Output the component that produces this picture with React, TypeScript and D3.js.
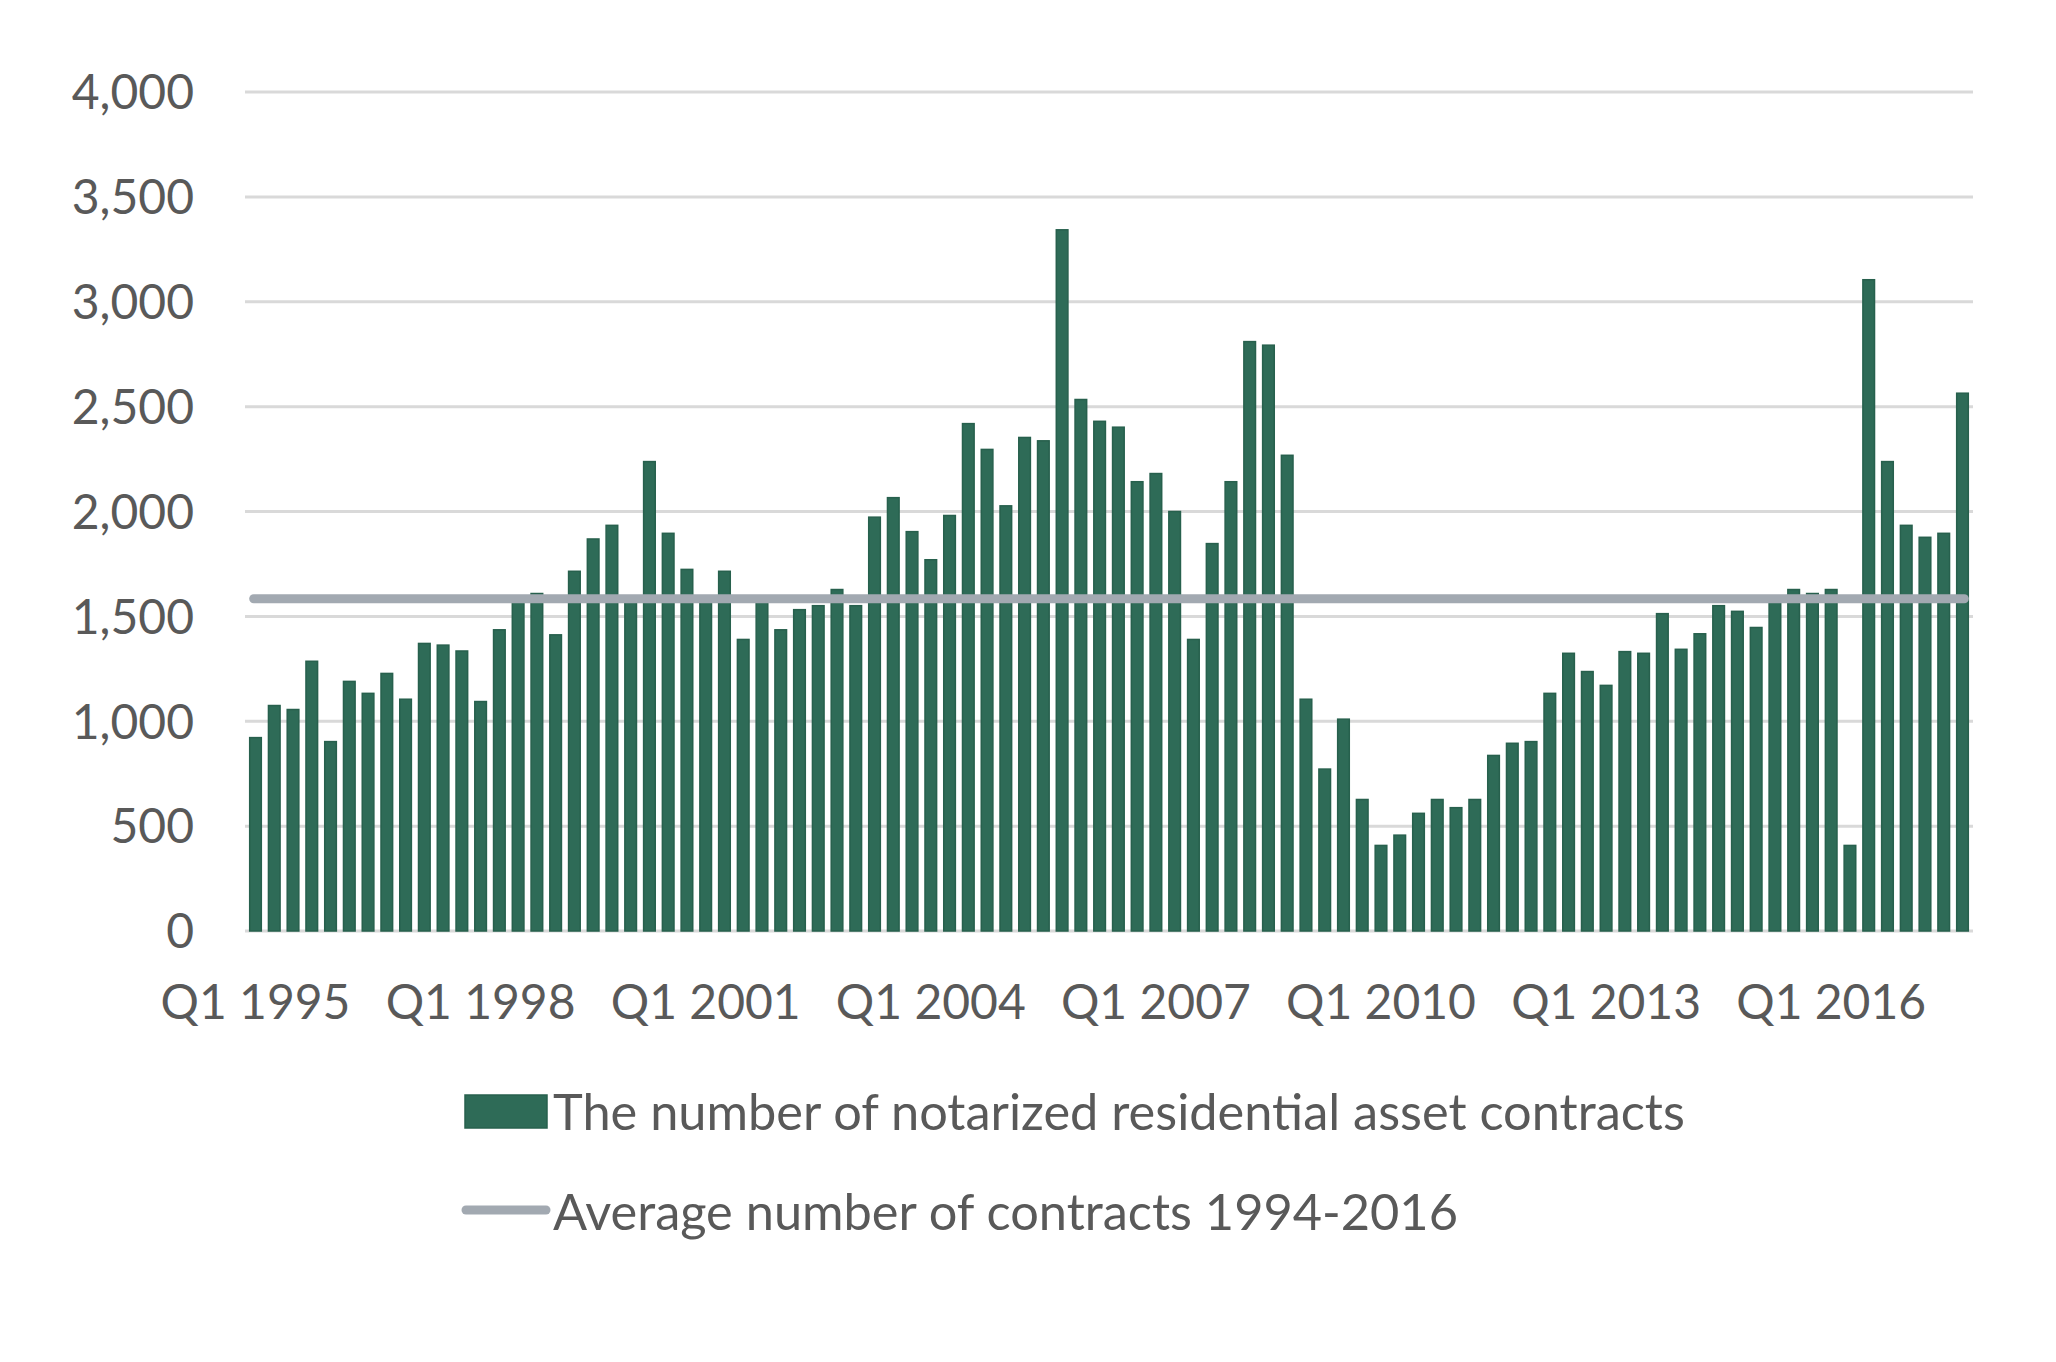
import { useEffect, useRef } from "react";
import * as d3 from "d3";

// quarterly counts, Q1 1995 .. Q4 2017
const contracts = [
  922, 1075, 1056, 1286, 903, 1190, 1133, 1228, 1105, 1371, 1363, 1335,
  1094, 1436, 1575, 1609, 1412, 1715, 1869, 1934, 1575, 2238, 1896, 1724,
  1575, 1715, 1390, 1575, 1436, 1532, 1551, 1628, 1551, 1973, 2066, 1904,
  1770, 1981, 2419, 2296, 2027, 2353, 2337, 3343, 2534, 2430, 2402, 2142,
  2181, 2000, 1390, 1847, 2142, 2810, 2793, 2268, 1105, 772, 1010, 627,
  408, 457, 561, 627, 588, 627, 837, 895, 903, 1133, 1324, 1237,
  1171, 1332, 1324, 1513, 1343, 1417, 1551, 1524, 1447, 1575, 1628, 1609,
  1628, 408, 3105, 2238, 1934, 1877, 1896, 2564,
];
const average = 1584;
const years = d3.range(1995, 2018);
const quarters = years.flatMap((y) => [1, 2, 3, 4].map((q) => `Q${q} ${y}`));
const xTickLabels = ["Q1 1995", "Q1 1998", "Q1 2001", "Q1 2004", "Q1 2007", "Q1 2010", "Q1 2013", "Q1 2016"];
const yTicks = [0, 500, 1000, 1500, 2000, 2500, 3000, 3500, 4000];
const seriesNames = ["The number of notarized residential asset contracts", "Average number of contracts 1994-2016"];

const W = 2056;
const H = 1362;
const FONT = "Lato, 'Open Sans', sans-serif";
const TEXT = "#595959";
const BAR = "#2e6b57";
const AVG = "#a2a9b1";

const App = () => {
  const ref = useRef<SVGSVGElement>(null);

  useEffect(() => {
    document.body.style.margin = "0";
    const svg = d3.select(ref.current);
    svg.selectAll("*").remove();

    const left = 245, right = 1973;
    const x = d3.scaleBand().domain(quarters).range([left, right]).paddingInner(0.38).paddingOuter(0.25);
    const y = d3.scaleLinear().domain([0, 4000]).range([931, 92]);

    // gridlines
    svg.append("g")
      .selectAll("line")
      .data(yTicks)
      .join("line")
      .attr("x1", left)
      .attr("x2", right)
      .attr("y1", (d) => y(d))
      .attr("y2", (d) => y(d))
      .attr("stroke", "#d9d9d9")
      .attr("stroke-width", 3);

    // y labels
    svg.append("g")
      .selectAll("text")
      .data(yTicks)
      .join("text")
      .attr("x", 194)
      .attr("y", (d) => y(d))
      .attr("dy", "0.36em")
      .attr("text-anchor", "end")
      .attr("font-family", FONT)
      .attr("font-size", 48)
      .attr("fill", TEXT)
      .text((d) => d3.format(",")(d));

    // bars
    svg.append("g")
      .selectAll("rect")
      .data(contracts)
      .join("rect")
      .attr("x", (_, i) => x(quarters[i])!)
      .attr("y", (d) => y(d))
      .attr("width", x.bandwidth())
      .attr("height", (d) => y(0) - y(d))
      .attr("fill", BAR)
      .attr("stroke", "#27604d")
      .attr("stroke-width", 1.5);

    // average line
    const x0 = x(quarters[0])! + 4;
    const x1 = x(quarters[quarters.length - 1])! + x.bandwidth() - 4;
    svg.append("line")
      .attr("x1", x0)
      .attr("x2", x1)
      .attr("y1", y(average))
      .attr("y2", y(average))
      .attr("stroke", AVG)
      .attr("stroke-width", 9)
      .attr("stroke-linecap", "round");

    // x labels
    svg.append("g")
      .selectAll("text")
      .data(xTickLabels)
      .join("text")
      .attr("x", (d) => x(d)! + x.bandwidth() / 2)
      .attr("y", 1019)
      .attr("text-anchor", "middle")
      .attr("font-family", FONT)
      .attr("font-size", 48)
      .attr("fill", TEXT)
      .text((d) => d);

    // legend
    const lg = svg.append("g");
    lg.append("rect")
      .attr("x", 465).attr("y", 1095).attr("width", 82).attr("height", 33)
      .attr("fill", BAR).attr("stroke", "#27604d").attr("stroke-width", 1.5);
    lg.append("text")
      .attr("x", 553).attr("y", 1130)
      .attr("font-family", FONT).attr("font-size", 50.5).attr("fill", TEXT)
      .text(seriesNames[0]);
    lg.append("line")
      .attr("x1", 466).attr("x2", 546).attr("y1", 1210).attr("y2", 1210)
      .attr("stroke", AVG).attr("stroke-width", 9).attr("stroke-linecap", "round");
    lg.append("text")
      .attr("x", 553).attr("y", 1230)
      .attr("font-family", FONT).attr("font-size", 50.5).attr("fill", TEXT)
      .text(seriesNames[1]);
  }, []);

  return <svg ref={ref} width={W} height={H} style={{ display: "block", background: "#fff" }} />;
};

export default App;
